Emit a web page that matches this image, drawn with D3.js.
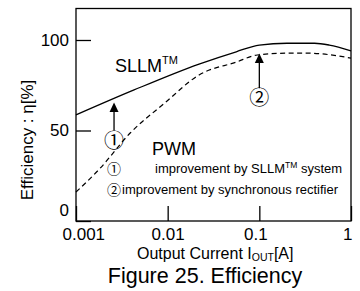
<!DOCTYPE html>
<html>
<head>
<meta charset="utf-8">
<script src="https://cdn.jsdelivr.net/npm/d3@7"></script>
<style>
body{margin:0;background:#fff;}
svg{display:block;font-family:"Liberation Sans",Arial,Helvetica,sans-serif;}
.circ{font-family:"Noto Sans CJK JP","DejaVu Sans",sans-serif;}
</style>
</head>
<body>
<svg width="360" height="291"></svg>
<script>
// courbes (courant en A, rendement en %)
const sllmI   = [0.001, 0.0043, 0.022, 0.056, 0.1, 0.2, 0.4, 0.58, 1];
const sllmEff = [58.6, 72.4, 86.7, 93.5, 97.2, 98.2, 98.2, 97.2, 94];
const pwmI    = [0.001, 0.0018, 0.0039, 0.0093, 0.022, 0.056, 0.095, 0.2, 0.35, 0.7, 1];
const pwmEff  = [16, 28.7, 48.6, 65.2, 80.7, 87.8, 91.7, 92.7, 92.7, 91.3, 90];

const xTicks = [0.001, 0.01, 0.1, 1];
const yTicks = [0, 50, 100];

// flèches d'amélioration: position en courant, bas (cercle) et haut (pointe)
const arrowI     = [0.0026, 0.1];
const arrowFrom  = [45.3, 68.7];
const arrowTo    = [65.4, 92.6];
const arrowLabel = ["\u2460", "\u2461"];

const svg = d3.select("svg");

const x = d3.scaleLog().domain([0.001, 1]).range([76, 351]);
const y = d3.scaleLinear().domain([0, 117.4]).range([221, 8.5]);

// axes, graduations vers l'intérieur
const gx = svg.append("g").attr("transform", "translate(0,221)")
  .call(d3.axisBottom(x).tickValues(xTicks).tickSize(-15).tickSizeOuter(0)
        .tickPadding(7).tickFormat(d => String(d)));
const gy = svg.append("g").attr("transform", "translate(76,0)")
  .call(d3.axisLeft(y).tickValues(yTicks).tickSize(-15).tickSizeOuter(0).tickPadding(7));

[gx, gy].forEach(g => {
  g.select(".domain").remove();
  g.selectAll("line").attr("stroke", "#000").attr("stroke-width", 1.3);
  g.selectAll("text").attr("fill", "#000").attr("font-size", 17)
   .attr("font-family", "Liberation Sans, Arial, sans-serif");
});
// décalages des étiquettes aux coins
gy.selectAll("text").filter(d => d === 0).attr("dy", "-0.35em");
gx.selectAll("text").filter(d => d === 0.001).attr("text-anchor", "start").attr("dx", -14);
gx.selectAll("text").filter(d => d === 1).attr("text-anchor", "end").attr("dx", 1);
gx.selectAll("text").filter(d => d === 0.1).attr("dx", -4);

// cadre
svg.append("rect")
  .attr("x", x(0.001)).attr("y", y(117.4))
  .attr("width", x(1) - x(0.001)).attr("height", y(0) - y(117.4))
  .attr("fill", "none").attr("stroke", "#000").attr("stroke-width", 1.3);

const line = d3.line().x(d => x(d[0])).y(d => y(d[1])).curve(d3.curveMonotoneX);

svg.append("path")
  .attr("d", line(d3.zip(sllmI, sllmEff)))
  .attr("fill", "none").attr("stroke", "#000").attr("stroke-width", 1.3);

svg.append("path")
  .attr("d", line(d3.zip(pwmI, pwmEff)))
  .attr("fill", "none").attr("stroke", "#000").attr("stroke-width", 1.2)
  .attr("stroke-dasharray", "5,3.5");

// flèches + cercles numérotés
arrowI.forEach((I, i) => {
  const ax = x(I), tip = y(arrowTo[i]), bot = y(arrowFrom[i]);
  svg.append("line")
    .attr("x1", ax).attr("x2", ax).attr("y1", bot - 8.5).attr("y2", tip + 8)
    .attr("stroke", "#000").attr("stroke-width", 1.3);
  svg.append("path")
    .attr("d", `M ${ax} ${tip} L ${ax - 4.5} ${tip + 9.5} L ${ax + 4.5} ${tip + 9.5} Z`)
    .attr("fill", "#000");
  svg.append("text").attr("class", "circ")
    .attr("x", ax).attr("y", bot)
    .attr("text-anchor", "middle").attr("dominant-baseline", "central")
    .attr("font-size", 20).text(arrowLabel[i]);
});

// étiquettes des courbes
const sl = svg.append("text").attr("x", 115).attr("y", 72).attr("font-size", 18);
sl.append("tspan").text("SLLM");
sl.append("tspan").attr("font-size", 11).attr("dy", -8).text("TM");

svg.append("text").attr("x", 152).attr("y", 155).attr("font-size", 18).text("PWM");

// légende
svg.append("text").attr("class", "circ").attr("x", 114).attr("y", 167.5)
  .attr("text-anchor", "middle").attr("dominant-baseline", "central")
  .attr("font-size", 14).text("\u2460");
const l1 = svg.append("text").attr("x", 155).attr("y", 173).attr("font-size", 13);
l1.append("tspan").text("improvement by SLLM");
l1.append("tspan").attr("font-size", 8.5).attr("dy", -5).text("TM");
l1.append("tspan").attr("dy", 5).text(" system");

svg.append("text").attr("class", "circ").attr("x", 114).attr("y", 189)
  .attr("text-anchor", "middle").attr("dominant-baseline", "central")
  .attr("font-size", 14).text("\u2461");
svg.append("text").attr("x", 122).attr("y", 193.5).attr("font-size", 13)
  .text("improvement by synchronous rectifier");

// titres
const xt = svg.append("text").attr("x", 137).attr("y", 259).attr("font-size", 16);
xt.append("tspan").text("Output Current I");
xt.append("tspan").attr("font-size", 10.5).attr("dy", 2).text("OUT");
xt.append("tspan").attr("dy", -2).text("[A]");

svg.append("text")
  .attr("transform", "translate(33,140) rotate(-90)")
  .attr("text-anchor", "middle").attr("font-size", 17)
  .text("Efficiency : \u03b7[%]");

svg.append("text").attr("x", 205).attr("y", 283).attr("text-anchor", "middle")
  .attr("font-size", 21.5).text("Figure 25. Efficiency");
</script>
</body>
</html>
